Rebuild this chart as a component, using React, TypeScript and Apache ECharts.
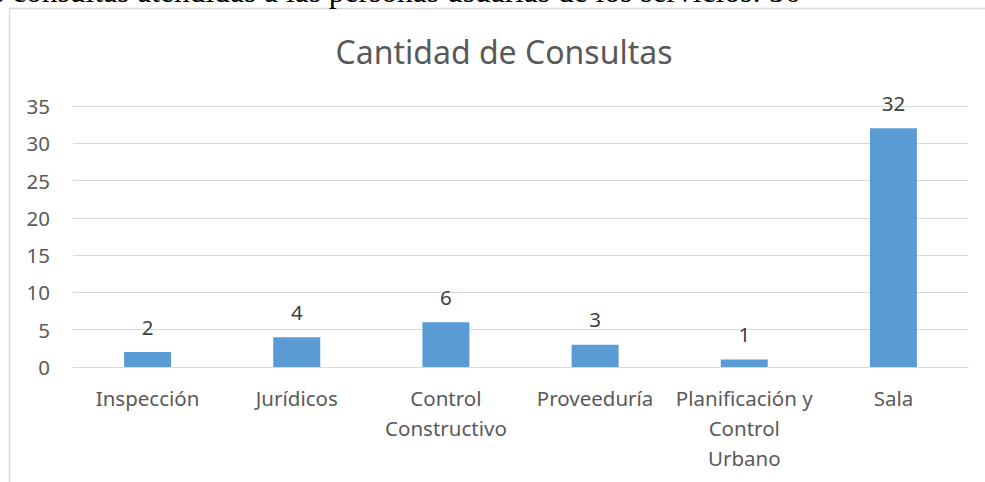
import React, { useEffect, useRef } from "react";
import * as echarts from "echarts";

const categories = ["Inspección", "Jurídicos", "Control Constructivo", "Proveeduría", "Planificación y Control Urbano", "Sala"];
const tickLabels = ["Inspección", "Jurídicos", "Control\nConstructivo", "Proveeduría", "Planificación y\nControl\nUrbano", "Sala"];
const consultas = [2, 4, 6, 3, 1, 32];
const yTicks = [0, 5, 10, 15, 20, 25, 30, 35];
const titleText = "Cantidad de Consultas";
const captionText = "s consultas atendidas a las personas usuarias de los servicios: 56";

const FONT = "'Noto Sans', 'Open Sans', sans-serif";

export default function App() {
  const ref = useRef<HTMLDivElement>(null);
  useEffect(() => {
    if (!ref.current) return;
    const chart = echarts.init(ref.current, undefined, { renderer: "svg" });
    chart.setOption({
      animation: false,
      backgroundColor: "#ffffff",
      title: {
        text: titleText,
        left: 499,
        top: 30,
        textAlign: "center",
        textStyle: { fontFamily: FONT, fontSize: 32, fontWeight: "normal", color: "#595959" },
      },
      graphic: [
        {
          type: "rect",
          shape: { x: 9.5, y: 8.5, width: 1200, height: 600 },
          style: { fill: "none", stroke: "#D9D9D9", lineWidth: 1.5 },
          silent: true,
        },
        {
          type: "text",
          x: -8,
          y: -8.5,
          style: {
            text: captionText,
            font: "31.5px 'Liberation Serif', 'Times New Roman', serif",
            fill: "#000000",
            verticalAlign: "middle",
          },
          silent: true,
        },
      ],
      grid: { left: 73, right: 17, top: 106, bottom: 115, containLabel: false },
      xAxis: {
        type: "category",
        data: categories,
        axisLine: { show: true, lineStyle: { color: "#D9D9D9", width: 1 } },
        axisTick: { show: false },
        axisLabel: {
          interval: 0,
          margin: 16,
          fontFamily: FONT,
          fontSize: 20.5,
          color: "#595959",
          lineHeight: 30,
          formatter: (_v: string, i: number) => tickLabels[i],
        },
      },
      yAxis: {
        type: "value",
        min: 0,
        max: 35,
        interval: 5,
        axisLine: { show: false },
        axisTick: { show: false },
        splitLine: { lineStyle: { color: "#D9D9D9", width: 1 } },
        axisLabel: {
          margin: 23,
          fontFamily: FONT,
          fontSize: 20.5,
          color: "#595959",
          formatter: (v: number) => (yTicks.includes(v) ? String(v) : ""),
        },
      },
      series: [
        {
          type: "bar",
          data: consultas,
          barWidth: 47,
          itemStyle: { color: "#5B9BD5" },
          label: {
            show: true,
            position: "top",
            distance: 15,
            fontFamily: FONT,
            fontSize: 20.5,
            color: "#404040",
          },
        },
      ],
    });
    return () => chart.dispose();
  }, []);
  return (
    <div
      ref={ref}
      style={{ position: "fixed", left: 0, top: 0, width: 985, height: 482, overflow: "hidden" }}
    />
  );
}
